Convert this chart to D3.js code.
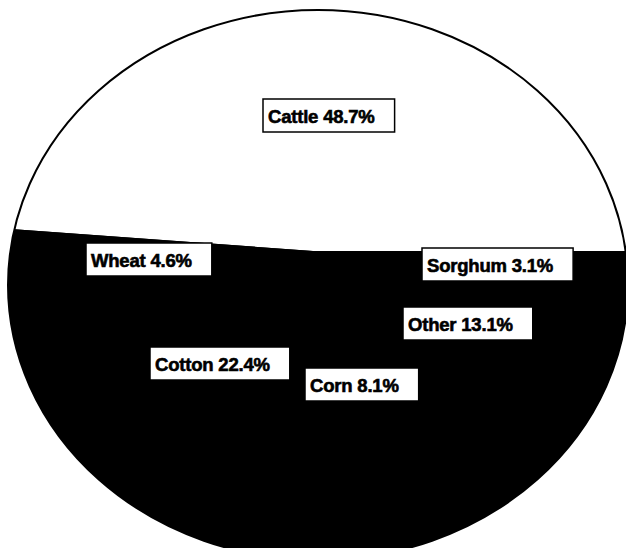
<!DOCTYPE html>
<html>
<head>
<meta charset="utf-8">
<script src="https://cdn.jsdelivr.net/npm/d3@7"></script>
<style>
  html, body { margin: 0; padding: 0; background: #fff; overflow: hidden; }
  svg { display: block; }
</style>
</head>
<body>
<svg id="chart" width="626" height="548"></svg>
<script>
// Farm receipts by commodity, share of total (%), in clockwise order from the top slice
const categories = ["Cattle", "Sorghum", "Other", "Corn", "Cotton", "Wheat"];
const shares = [48.7, 3.1, 13.1, 8.1, 22.4, 4.6];
const sliceFills = ["#ffffff", "#000000", "#000000", "#000000", "#000000", "#000000"];

// ---- layout ----
const W = 626, H = 548;
const hub = { x: 313, y: 251 };                        // where the slices meet
const rim = { cx: 318, cy: 285, rx: 310, ry: 275 };    // outer ellipse of the pie
// top-left corner of each label box
const labelBoxes = {
  Cattle: [263, 99], Wheat: [86, 243], Sorghum: [422, 248],
  Other: [403, 307], Cotton: [150, 347], Corn: [305, 368]
};
const boxH = 33, padL = 5, padR = 20;

const data = categories.map((name, i) => ({ name, value: shares[i], fill: sliceFills[i] }));
const total = d3.sum(shares);

// the first slice ends on the horizontal to the right of the hub
const start = Math.PI / 2 - 2 * Math.PI * shares[0] / total;
const pie = d3.pie().sort(null).value(d => d.value)
  .startAngle(start).endAngle(start + 2 * Math.PI);
const arcs = pie(data);

// point where a ray from the hub at pie angle theta meets the rim ellipse
function rimPoint(theta) {
  const dx = rim.rx * Math.sin(theta), dy = -rim.ry * Math.cos(theta);
  const u = (hub.x - rim.cx) / rim.rx, v = (hub.y - rim.cy) / rim.ry;
  const a = dx / rim.rx, b = dy / rim.ry;
  const A = a * a + b * b, B = u * a + v * b, C = u * u + v * v - 1;
  const t = (-B + Math.sqrt(B * B - A * C)) / A;
  return [hub.x + t * dx, hub.y + t * dy];
}
function rimParam(p) {
  return Math.atan2((p[1] - rim.cy) / rim.ry, (p[0] - rim.cx) / rim.rx);
}
function slicePath(d) {
  const p0 = rimPoint(d.startAngle), p1 = rimPoint(d.endAngle);
  let sweep = rimParam(p1) - rimParam(p0);
  while (sweep < 0) sweep += 2 * Math.PI;
  const large = sweep > Math.PI ? 1 : 0;
  const path = d3.path();
  path.moveTo(hub.x, hub.y);
  path.lineTo(p0[0], p0[1]);
  return path.toString() +
    `A${rim.rx},${rim.ry} 0 ${large} 1 ${p1[0]},${p1[1]}Z`;
}

const svg = d3.select("#chart");
svg.append("rect").attr("width", W).attr("height", H).attr("fill", "#fff");

const g = svg.append("g");

// dark base so adjoining dark slices show no seams
g.append("ellipse")
  .attr("cx", rim.cx).attr("cy", rim.cy)
  .attr("rx", rim.rx).attr("ry", rim.ry)
  .attr("fill", "#000");

g.selectAll("path.slice")
  .data(arcs)
  .join("path")
  .attr("class", "slice")
  .attr("d", slicePath)
  .attr("fill", d => d.data.fill);

// rim outline
g.append("ellipse")
  .attr("cx", rim.cx).attr("cy", rim.cy)
  .attr("rx", rim.rx).attr("ry", rim.ry)
  .attr("fill", "none")
  .attr("stroke", "#000")
  .attr("stroke-width", 2);

// value labels in boxes
const labels = g.selectAll("g.label")
  .data(arcs)
  .join("g")
  .attr("class", "label")
  .attr("transform", d => `translate(${labelBoxes[d.data.name][0]},${labelBoxes[d.data.name][1]})`);

labels.append("rect")
  .attr("y", 0).attr("height", boxH)
  .attr("fill", "#fff")
  .attr("stroke", "#000")
  .attr("stroke-width", 1.5);

const texts = labels.append("text")
  .attr("x", padL)
  .attr("y", boxH / 2 + 1)
  .attr("dominant-baseline", "central")
  .attr("font-family", "'Liberation Sans', Arial, Helvetica, sans-serif")
  .attr("font-weight", "bold")
  .attr("font-size", 18.5)
  .attr("letter-spacing", "-0.2px")
  .attr("fill", "#000")
  .attr("stroke", "#000")
  .attr("stroke-width", 0.6)
  .text(d => `${d.data.name} ${d.data.value.toFixed(1)}%`);

texts.each(function () {
  const w = this.getComputedTextLength();
  d3.select(this.parentNode).select("rect").attr("width", padL + w + padR);
});
</script>
</body>
</html>
